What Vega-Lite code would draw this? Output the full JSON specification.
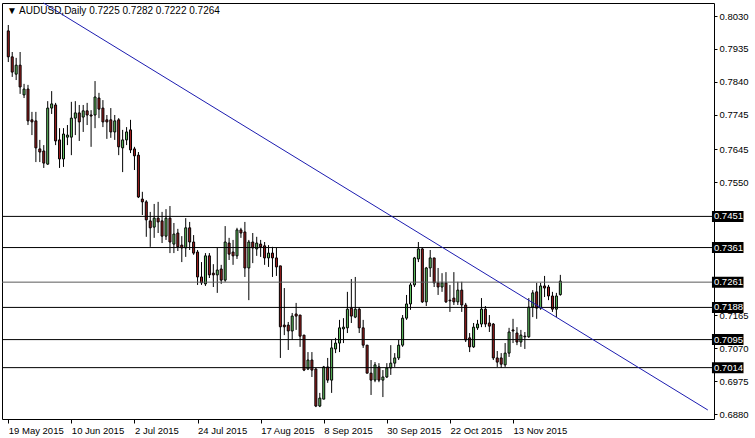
{
"$schema":"https://vega.github.io/schema/vega-lite/v6.json",
"width":712,"height":416,
"autosize":"none",
"padding":{"left":2,"top":3,"right":41,"bottom":19},
"background":"white",
"config":{"view":{"stroke":"#000000","strokeWidth":1},"font":"Liberation Sans"},
"title":{"text":"▼ AUDUSD,Daily  0.7225 0.7282 0.7222 0.7264","anchor":"start","frame":"group","orient":"top","offset":-15,"dx":5,"font":"Liberation Sans","fontSize":10,"fontWeight":"normal","color":"#000000"},
"datasets":{
"candles":[
{"i":0,"o":0.7987,"h":0.8004,"l":0.7897,"c":0.7912},
{"i":1,"o":0.7912,"h":0.7926,"l":0.7854,"c":0.7868},
{"i":2,"o":0.7862,"h":0.7909,"l":0.7845,"c":0.7888},
{"i":3,"o":0.7888,"h":0.7926,"l":0.7805,"c":0.7825},
{"i":4,"o":0.7802,"h":0.7834,"l":0.7793,"c":0.7819},
{"i":5,"o":0.7819,"h":0.7831,"l":0.7715,"c":0.7727},
{"i":6,"o":0.7730,"h":0.7753,"l":0.7686,"c":0.7724},
{"i":7,"o":0.7727,"h":0.7753,"l":0.7608,"c":0.7649},
{"i":8,"o":0.7646,"h":0.7672,"l":0.7608,"c":0.7637},
{"i":9,"o":0.7640,"h":0.7657,"l":0.7591,"c":0.7605},
{"i":10,"o":0.7602,"h":0.7784,"l":0.7600,"c":0.7764},
{"i":11,"o":0.7764,"h":0.7813,"l":0.7747,"c":0.7776},
{"i":12,"o":0.7773,"h":0.7779,"l":0.7657,"c":0.7669},
{"i":13,"o":0.7672,"h":0.7706,"l":0.7591,"c":0.7617},
{"i":14,"o":0.7617,"h":0.7706,"l":0.7594,"c":0.7689},
{"i":15,"o":0.7680,"h":0.7715,"l":0.7657,"c":0.7686},
{"i":16,"o":0.7680,"h":0.7782,"l":0.7628,"c":0.7735},
{"i":17,"o":0.7735,"h":0.7784,"l":0.7686,"c":0.7750},
{"i":18,"o":0.7750,"h":0.7773,"l":0.7669,"c":0.7724},
{"i":19,"o":0.7738,"h":0.7773,"l":0.7695,"c":0.7756},
{"i":20,"o":0.7756,"h":0.7779,"l":0.7715,"c":0.7744},
{"i":21,"o":0.7744,"h":0.7758,"l":0.7652,"c":0.7741},
{"i":22,"o":0.7744,"h":0.7842,"l":0.7706,"c":0.7796},
{"i":23,"o":0.7793,"h":0.7808,"l":0.7735,"c":0.7761},
{"i":24,"o":0.7764,"h":0.7787,"l":0.7709,"c":0.7724},
{"i":25,"o":0.7730,"h":0.7744,"l":0.7675,"c":0.7724},
{"i":26,"o":0.7730,"h":0.7764,"l":0.7678,"c":0.7695},
{"i":27,"o":0.7695,"h":0.7744,"l":0.7672,"c":0.7727},
{"i":28,"o":0.7730,"h":0.7735,"l":0.7628,"c":0.7652},
{"i":29,"o":0.7649,"h":0.7701,"l":0.7579,"c":0.7672},
{"i":30,"o":0.7672,"h":0.7709,"l":0.7657,"c":0.7695},
{"i":31,"o":0.7701,"h":0.7730,"l":0.7634,"c":0.7643},
{"i":32,"o":0.7646,"h":0.7652,"l":0.7585,"c":0.7626},
{"i":33,"o":0.7628,"h":0.7637,"l":0.7504,"c":0.7507},
{"i":34,"o":0.7501,"h":0.7522,"l":0.7455,"c":0.7493},
{"i":35,"o":0.7493,"h":0.7498,"l":0.7392,"c":0.7441},
{"i":36,"o":0.7438,"h":0.7464,"l":0.7363,"c":0.7418},
{"i":37,"o":0.7420,"h":0.7487,"l":0.7389,"c":0.7446},
{"i":38,"o":0.7446,"h":0.7493,"l":0.7403,"c":0.7435},
{"i":39,"o":0.7438,"h":0.7464,"l":0.7374,"c":0.7394},
{"i":40,"o":0.7394,"h":0.7472,"l":0.7383,"c":0.7446},
{"i":41,"o":0.7446,"h":0.7481,"l":0.7345,"c":0.7377},
{"i":42,"o":0.7371,"h":0.7432,"l":0.7345,"c":0.7400},
{"i":43,"o":0.7403,"h":0.7415,"l":0.7351,"c":0.7363},
{"i":44,"o":0.7368,"h":0.7394,"l":0.7319,"c":0.7360},
{"i":45,"o":0.7360,"h":0.7446,"l":0.7334,"c":0.7418},
{"i":46,"o":0.7418,"h":0.7435,"l":0.7354,"c":0.7377},
{"i":47,"o":0.7377,"h":0.7397,"l":0.7340,"c":0.7345},
{"i":48,"o":0.7348,"h":0.7354,"l":0.7253,"c":0.7276},
{"i":49,"o":0.7276,"h":0.7319,"l":0.7253,"c":0.7259},
{"i":50,"o":0.7256,"h":0.7345,"l":0.7250,"c":0.7337},
{"i":51,"o":0.7337,"h":0.7345,"l":0.7273,"c":0.7282},
{"i":52,"o":0.7287,"h":0.7313,"l":0.7247,"c":0.7282},
{"i":53,"o":0.7282,"h":0.7360,"l":0.7230,"c":0.7296},
{"i":54,"o":0.7299,"h":0.7311,"l":0.7256,"c":0.7267},
{"i":55,"o":0.7267,"h":0.7423,"l":0.7262,"c":0.7377},
{"i":56,"o":0.7374,"h":0.7389,"l":0.7325,"c":0.7342},
{"i":57,"o":0.7348,"h":0.7383,"l":0.7311,"c":0.7337},
{"i":58,"o":0.7337,"h":0.7418,"l":0.7328,"c":0.7412},
{"i":59,"o":0.7412,"h":0.7418,"l":0.7389,"c":0.7403},
{"i":60,"o":0.7406,"h":0.7435,"l":0.7276,"c":0.7302},
{"i":61,"o":0.7302,"h":0.7383,"l":0.7209,"c":0.7377},
{"i":62,"o":0.7377,"h":0.7403,"l":0.7316,"c":0.7360},
{"i":63,"o":0.7357,"h":0.7392,"l":0.7337,"c":0.7374},
{"i":64,"o":0.7371,"h":0.7383,"l":0.7334,"c":0.7363},
{"i":65,"o":0.7366,"h":0.7377,"l":0.7311,"c":0.7331},
{"i":66,"o":0.7331,"h":0.7368,"l":0.7305,"c":0.7345},
{"i":67,"o":0.7345,"h":0.7363,"l":0.7276,"c":0.7331},
{"i":68,"o":0.7331,"h":0.7360,"l":0.7279,"c":0.7305},
{"i":69,"o":0.7308,"h":0.7308,"l":0.7042,"c":0.7132},
{"i":70,"o":0.7137,"h":0.7244,"l":0.7108,"c":0.7132},
{"i":71,"o":0.7137,"h":0.7146,"l":0.7065,"c":0.7120},
{"i":72,"o":0.7120,"h":0.7172,"l":0.7094,"c":0.7163},
{"i":73,"o":0.7169,"h":0.7201,"l":0.7123,"c":0.7163},
{"i":74,"o":0.7166,"h":0.7166,"l":0.7074,"c":0.7105},
{"i":75,"o":0.7108,"h":0.7108,"l":0.7004,"c":0.7007},
{"i":76,"o":0.7010,"h":0.7059,"l":0.7007,"c":0.7036},
{"i":77,"o":0.7036,"h":0.7059,"l":0.6987,"c":0.7007},
{"i":78,"o":0.7010,"h":0.7013,"l":0.6900,"c":0.6903},
{"i":79,"o":0.6903,"h":0.6941,"l":0.6900,"c":0.6926},
{"i":80,"o":0.6923,"h":0.7019,"l":0.6923,"c":0.7016},
{"i":81,"o":0.7016,"h":0.7042,"l":0.6970,"c":0.6978},
{"i":82,"o":0.6978,"h":0.7094,"l":0.6941,"c":0.7071},
{"i":83,"o":0.7068,"h":0.7100,"l":0.7056,"c":0.7085},
{"i":84,"o":0.7085,"h":0.7152,"l":0.7059,"c":0.7129},
{"i":85,"o":0.7126,"h":0.7157,"l":0.7085,"c":0.7131},
{"i":86,"o":0.7129,"h":0.7233,"l":0.7114,"c":0.7183},
{"i":87,"o":0.7186,"h":0.7270,"l":0.7143,"c":0.7163},
{"i":88,"o":0.7160,"h":0.7276,"l":0.7157,"c":0.7183},
{"i":89,"o":0.7183,"h":0.7189,"l":0.7114,"c":0.7129},
{"i":90,"o":0.7129,"h":0.7152,"l":0.7071,"c":0.7079},
{"i":91,"o":0.7079,"h":0.7079,"l":0.6998,"c":0.6998},
{"i":92,"o":0.6998,"h":0.7036,"l":0.6935,"c":0.6978},
{"i":93,"o":0.6978,"h":0.7030,"l":0.6972,"c":0.7022},
{"i":94,"o":0.7016,"h":0.7027,"l":0.6972,"c":0.6978},
{"i":95,"o":0.6978,"h":0.7007,"l":0.6929,"c":0.6987},
{"i":96,"o":0.6987,"h":0.7027,"l":0.6984,"c":0.7013},
{"i":97,"o":0.7013,"h":0.7079,"l":0.6993,"c":0.7027},
{"i":98,"o":0.7027,"h":0.7056,"l":0.7016,"c":0.7042},
{"i":99,"o":0.7042,"h":0.7094,"l":0.7036,"c":0.7079},
{"i":100,"o":0.7079,"h":0.7166,"l":0.7074,"c":0.7157},
{"i":101,"o":0.7157,"h":0.7224,"l":0.7152,"c":0.7198},
{"i":102,"o":0.7198,"h":0.7259,"l":0.7181,"c":0.7253},
{"i":103,"o":0.7253,"h":0.7334,"l":0.7247,"c":0.7331},
{"i":104,"o":0.7328,"h":0.7377,"l":0.7319,"c":0.7357},
{"i":105,"o":0.7357,"h":0.7360,"l":0.7201,"c":0.7204},
{"i":106,"o":0.7204,"h":0.7305,"l":0.7192,"c":0.7302},
{"i":107,"o":0.7302,"h":0.7354,"l":0.7276,"c":0.7331},
{"i":108,"o":0.7331,"h":0.7331,"l":0.7247,"c":0.7259},
{"i":109,"o":0.7259,"h":0.7302,"l":0.7224,"c":0.7247},
{"i":110,"o":0.7247,"h":0.7287,"l":0.7233,"c":0.7259},
{"i":111,"o":0.7259,"h":0.7290,"l":0.7201,"c":0.7204},
{"i":112,"o":0.7209,"h":0.7253,"l":0.7175,"c":0.7207},
{"i":113,"o":0.7215,"h":0.7290,"l":0.7195,"c":0.7204},
{"i":114,"o":0.7204,"h":0.7262,"l":0.7195,"c":0.7238},
{"i":115,"o":0.7238,"h":0.7262,"l":0.7175,"c":0.7195},
{"i":116,"o":0.7195,"h":0.7201,"l":0.7088,"c":0.7094},
{"i":117,"o":0.7100,"h":0.7114,"l":0.7059,"c":0.7074},
{"i":118,"o":0.7074,"h":0.7143,"l":0.7071,"c":0.7131},
{"i":119,"o":0.7129,"h":0.7152,"l":0.7123,"c":0.7140},
{"i":120,"o":0.7140,"h":0.7215,"l":0.7131,"c":0.7183},
{"i":121,"o":0.7183,"h":0.7192,"l":0.7131,"c":0.7140},
{"i":122,"o":0.7143,"h":0.7166,"l":0.7117,"c":0.7134},
{"i":123,"o":0.7140,"h":0.7143,"l":0.7036,"c":0.7042},
{"i":124,"o":0.7042,"h":0.7062,"l":0.7016,"c":0.7030},
{"i":125,"o":0.7042,"h":0.7056,"l":0.7013,"c":0.7024},
{"i":126,"o":0.7022,"h":0.7085,"l":0.7016,"c":0.7056},
{"i":127,"o":0.7056,"h":0.7129,"l":0.7045,"c":0.7117},
{"i":128,"o":0.7123,"h":0.7155,"l":0.7085,"c":0.7120},
{"i":129,"o":0.7114,"h":0.7131,"l":0.7079,"c":0.7088},
{"i":130,"o":0.7088,"h":0.7123,"l":0.7074,"c":0.7108},
{"i":131,"o":0.7105,"h":0.7117,"l":0.7068,"c":0.7103},
{"i":132,"o":0.7103,"h":0.7215,"l":0.7100,"c":0.7189},
{"i":133,"o":0.7189,"h":0.7238,"l":0.7160,"c":0.7230},
{"i":134,"o":0.7233,"h":0.7259,"l":0.7155,"c":0.7186},
{"i":135,"o":0.7186,"h":0.7259,"l":0.7181,"c":0.7250},
{"i":136,"o":0.7250,"h":0.7279,"l":0.7218,"c":0.7244},
{"i":137,"o":0.7247,"h":0.7253,"l":0.7209,"c":0.7221},
{"i":138,"o":0.7221,"h":0.7233,"l":0.7175,"c":0.7183},
{"i":139,"o":0.7183,"h":0.7230,"l":0.7160,"c":0.7221},
{"i":140,"o":0.7225,"h":0.7282,"l":0.7222,"c":0.7264}
],
"levels":[{"v":0.7451},{"v":0.7361},{"v":0.7261},{"v":0.7188},{"v":0.7095},{"v":0.7014}],
"trend":[{"i":8.925,"p":0.80676},{"i":177.4,"p":0.68916}]
},
"layer":[
{"data":{"name":"candles"},
 "mark":{"type":"rule","color":"#000000","strokeWidth":1},
 "encoding":{
  "x":{"field":"i","type":"quantitative","scale":{"domain":[-0.325,177.7]},
   "axis":{"values":[0,16,32,48,64,80,96,112,128],"labelExpr":"['19 May 2015','10 Jun 2015','2 Jul 2015','24 Jul 2015','17 Aug 2015','8 Sep 2015','30 Sep 2015','22 Oct 2015','13 Nov 2015'][round(datum.value/16)]","title":null,"domain":false,"grid":false,"tickColor":"#000000","tickSize":4,"labelAlign":"left","labelBaseline":"top","labelPadding":2,"labelFont":"Liberation Sans","labelFontSize":9.5,"labelColor":"#000000","labelFlush":false,"labelOverlap":false}},
  "y":{"field":"l","type":"quantitative","scale":{"domain":[0.68656,0.80676],"zero":false,"nice":false},
   "axis":{"orient":"right","values":[0.688,0.6975,0.707,0.7165,0.755,0.7645,0.7745,0.784,0.7935,0.803],"format":".4f","title":null,"domain":false,"grid":false,"tickColor":"#000000","tickSize":3,"labelPadding":2,"labelFont":"Liberation Sans","labelFontSize":9.5,"labelColor":"#000000","labelOverlap":false,"labelFlush":false}},
  "y2":{"field":"h"}
 }},
{"data":{"name":"candles"},
 "mark":{"type":"bar","width":2,"stroke":"#000000","strokeWidth":1},
 "encoding":{
  "x":{"field":"i","type":"quantitative","scale":{"domain":[-0.325,177.7]}},
  "y":{"field":"o","type":"quantitative","scale":{"domain":[0.68656,0.80676],"zero":false,"nice":false}},
  "y2":{"field":"c"},
  "fill":{"condition":{"test":"datum.c >= datum.o","value":"#62c462"},"value":"#a01e1e"}
 }},
{"data":{"name":"levels"},
 "mark":{"type":"rule","strokeWidth":1},
 "encoding":{
  "y":{"field":"v","type":"quantitative","scale":{"domain":[0.68656,0.80676],"zero":false,"nice":false}},
  "color":{"condition":{"test":"datum.v == 0.7261","value":"#5a5a5a"},"value":"#000000"},
  "strokeWidth":{"condition":{"test":"datum.v == 0.7261","value":2},"value":1}
 }},
{"data":{"name":"trend"},
 "mark":{"type":"line","color":"#1c1cb0","strokeWidth":1},
 "encoding":{
  "x":{"field":"i","type":"quantitative","scale":{"domain":[-0.325,177.7]}},
  "y":{"field":"p","type":"quantitative","scale":{"domain":[0.68656,0.80676],"zero":false,"nice":false}}
 }},
{"data":{"name":"levels"},
 "mark":{"type":"rule","color":"#000000","strokeWidth":11,"strokeCap":"butt"},
 "encoding":{
  "x":{"datum":178.45,"type":"quantitative","scale":{"domain":[-0.325,177.7]}},
  "x2":{"datum":186.45},
  "y":{"field":"v","type":"quantitative","scale":{"domain":[0.68656,0.80676],"zero":false,"nice":false}}
 }},
{"data":{"name":"levels"},
 "mark":{"type":"text","color":"#ffffff","align":"left","baseline":"middle","font":"Liberation Sans","fontSize":9.5},
 "encoding":{
  "x":{"datum":178.95,"type":"quantitative","scale":{"domain":[-0.325,177.7]}},
  "y":{"field":"v","type":"quantitative","scale":{"domain":[0.68656,0.80676],"zero":false,"nice":false}},
  "text":{"field":"v","format":".4f"}
 }}
]
}
